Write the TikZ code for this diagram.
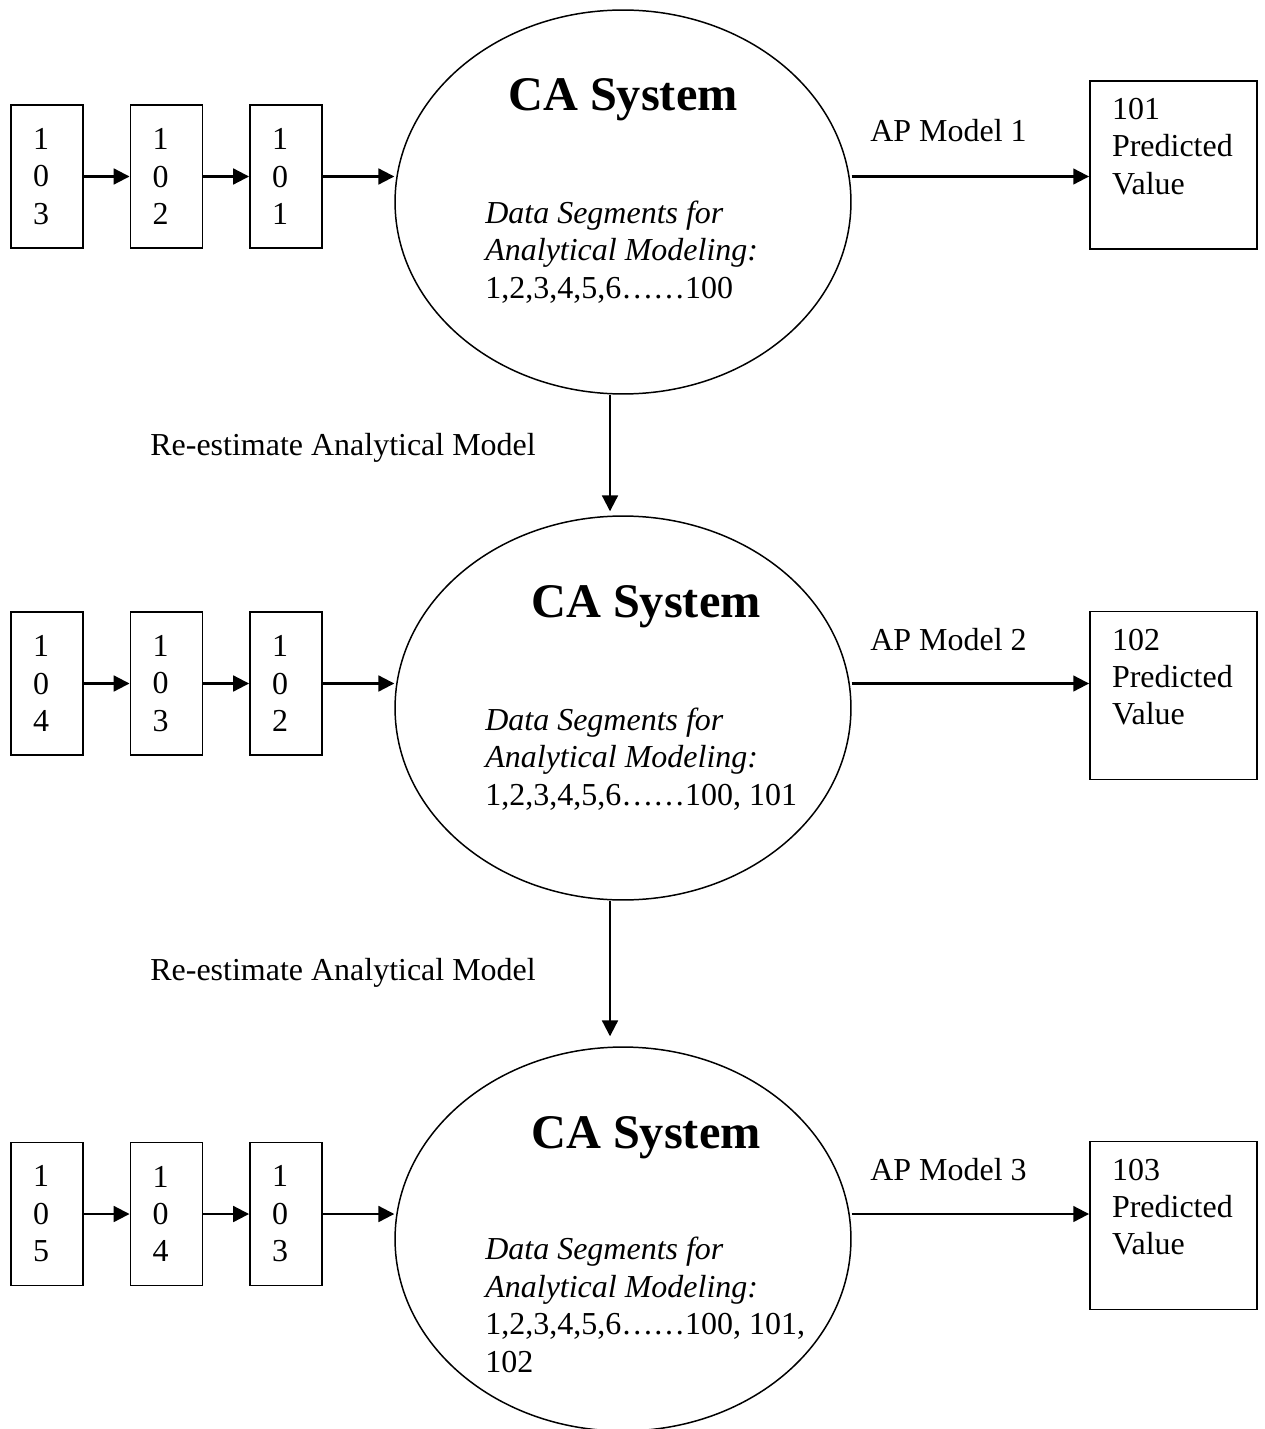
\documentclass[tikz,border=0pt]{standalone}
\usepackage{fontspec}
\setmainfont{Liberation Serif}
\usetikzlibrary{shapes.geometric,arrows.meta}

\begin{document}
\begin{tikzpicture}[x=0.02cm, y=-0.02cm,
    every node/.style={font=\fontsize{18.2}{21.3}\selectfont},
    numbox/.style={draw, line width=1.1pt, minimum width=1.44cm, minimum height=2.86cm, inner xsep=0.44cm, text width=0.56cm, align=left},
    valbox/.style={draw, line width=1.1pt, minimum width=3.34cm, minimum height=3.36cm, inner xsep=0.44cm, text width=2.46cm, align=left},
    sysell/.style={draw, ellipse, line width=0.85pt, minimum width=9.12cm, minimum height=7.68cm},
    title/.style={anchor=base, font=\fontsize{27.5}{33}\selectfont\bfseries},
    segs/.style={anchor=base west, align=left, inner sep=0pt},
    lbl/.style={anchor=base west, inner sep=0pt},
    arr/.style={-{Triangle[length=9pt,width=9pt]}, line width=1.2pt}]
    \useasboundingbox (0,0) rectangle (1264,1429);
    % first run
    \node[sysell] (ell1) at (623,202) {};
    \node[title] (title1) at (623,111) {CA System};
    \node[segs] (segs1) at (485,298) {\textit{Data Segments for}\\\textit{Analytical Modeling:}\\1,2,3,4,5,6……100};
    \node[numbox] (b11) at (47,176.5) {1\\0\\3};
    \node[numbox] (b12) at (166.5,176.5) {1\\0\\2};
    \node[numbox] (b13) at (286,176.5) {1\\0\\1};
    \node[valbox] (v1) at (1173.5,165) {101\\Predicted\\Value\\\mbox{}};
    \node[lbl] (ap1) at (870,142) {AP Model 1};
    \draw[arr] (b11) -- (b12);
    \draw[arr] (b12) -- (b13);
    \draw[arr] (b13.east) -- (b13.east -| ell1.west);
    \draw[arr] (b13.east -| ell1.east) -- (b13.east -| v1.west);
    % second run
    \node[sysell] (ell2) at (623,708) {};
    \node[title] (title2) at (646,617) {CA System};
    \node[segs] (segs2) at (485,805) {\textit{Data Segments for}\\\textit{Analytical Modeling:}\\1,2,3,4,5,6……100, 101};
    \node[numbox] (b21) at (47,683.5) {1\\0\\4};
    \node[numbox] (b22) at (166.5,683.5) {1\\0\\3};
    \node[numbox] (b23) at (286,683.5) {1\\0\\2};
    \node[valbox] (v2) at (1173.5,695.5) {102\\Predicted\\Value\\\mbox{}};
    \node[lbl] (ap2) at (870,650) {AP Model 2};
    \draw[arr] (b21) -- (b22);
    \draw[arr] (b22) -- (b23);
    \draw[arr] (b23.east) -- (b23.east -| ell2.west);
    \draw[arr] (b23.east -| ell2.east) -- (b23.east -| v2.west);
    % third run
    \node[sysell] (ell3) at (623,1239) {};
    \node[title] (title3) at (646,1148) {CA System};
    \node[segs] (segs3) at (485,1372) {\textit{Data Segments for}\\\textit{Analytical Modeling:}\\1,2,3,4,5,6……100, 101,\\102};
    \node[numbox] (b31) at (47,1214) {1\\0\\5};
    \node[numbox] (b32) at (166.5,1214) {1\\0\\4};
    \node[numbox] (b33) at (286,1214) {1\\0\\3};
    \node[valbox] (v3) at (1173.5,1225.5) {103\\Predicted\\Value\\\mbox{}};
    \node[lbl] (ap3) at (870,1180) {AP Model 3};
    \draw[arr] (b31) -- (b32);
    \draw[arr] (b32) -- (b33);
    \draw[arr] (b33.east) -- (b33.east -| ell3.west);
    \draw[arr] (b33.east -| ell3.east) -- (b33.east -| v3.west);
    % re-estimation
    \node[lbl] (re1) at (150,455) {Re-estimate Analytical Model};
    \node[lbl] (re2) at (150,980) {Re-estimate Analytical Model};
    \draw[arr] ([xshift=-0.26cm]ell1.south) -- ([xshift=-0.26cm,yshift=0.08cm]ell2.north);
    \draw[arr] ([xshift=-0.26cm]ell2.south) -- ([xshift=-0.26cm,yshift=0.2cm]ell3.north);
\end{tikzpicture}
\end{document}
